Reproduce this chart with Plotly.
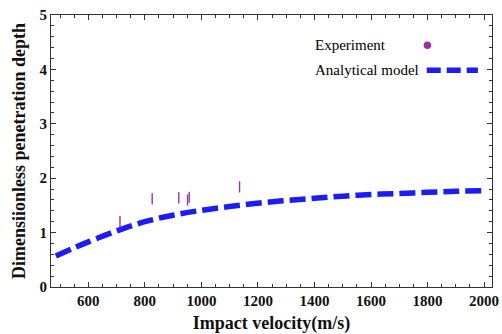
import plotly.graph_objects as go

# Experimental data
exp_velocity = [712, 826, 920, 951, 957, 1135]
exp_depth = [1.20, 1.62, 1.64, 1.60, 1.65, 1.84]

# Analytical model
model_velocity = [485, 550, 600, 700, 800, 900, 1000, 1100, 1200, 1300, 1400,
                  1500, 1600, 1700, 1800, 1900, 2000]
model_depth = [0.57, 0.72, 0.83, 1.03, 1.20, 1.32, 1.41, 1.48, 1.54, 1.59, 1.63,
               1.67, 1.70, 1.72, 1.74, 1.76, 1.77]

x_ticks = [600, 800, 1000, 1200, 1400, 1600, 1800, 2000]
y_ticks = [0, 1, 2, 3, 4, 5]

PURPLE = "#9b30a8"
BLUE = "#1c1cf5"
FONT = "Liberation Serif"

fig = go.Figure()
fig.add_trace(go.Scatter(
    x=model_velocity, y=model_depth, mode="lines", line_shape="spline",
    line=dict(color=BLUE, width=5.5, dash="16px,6px"), showlegend=False,
))
fig.add_trace(go.Scatter(
    x=exp_velocity, y=exp_depth, mode="markers",
    marker=dict(symbol="line-ns", size=8, line=dict(color=PURPLE, width=1.4)),
    showlegend=False,
))

axis_common = dict(
    showgrid=False, zeroline=False, showline=True, linecolor="#333", linewidth=1,
    mirror="allticks", ticks="inside", ticklen=5, tickcolor="#333", automargin=False,
    tickfont=dict(family=FONT, size=15, color="#111", weight="bold"),
)
fig.update_xaxes(
    range=[468, 2028], tickvals=x_ticks, ticktext=[str(v) for v in x_ticks],
    minor=dict(dtick=50, ticks="inside", ticklen=3, tickcolor="#333"),
    title=dict(text="Impact velocity(m/s)",
               font=dict(family=FONT, size=18, color="#111", weight="bold"),
               standoff=8),
    **axis_common,
)
fig.update_yaxes(
    range=[0, 5], tickvals=y_ticks, ticktext=[str(v) for v in y_ticks],
    minor=dict(dtick=0.2, ticks="inside", ticklen=3, tickcolor="#333"),
    title=dict(text="Dimensiionless penetration depth",
               font=dict(family=FONT, size=18, color="#111", weight="bold"), standoff=9),
    **axis_common,
)

# Legend (text left, symbol right)
fig.add_annotation(x=0.594, y=0.888, xref="paper", yref="paper", xanchor="left",
                   yanchor="middle", showarrow=False, text="Experiment",
                   font=dict(family=FONT, size=15, color="#000"))
fig.add_annotation(x=0.594, y=0.797, xref="paper", yref="paper", xanchor="left",
                   yanchor="middle", showarrow=False, text="Analytical model",
                   font=dict(family=FONT, size=15, color="#000"))
fig.add_shape(type="circle", xref="paper", yref="paper",
              x0=0.845, x1=0.862, y0=0.875, y1=0.903,
              fillcolor=PURPLE, line=dict(color=PURPLE, width=0))
fig.add_shape(type="line", xref="paper", yref="paper",
              x0=0.852, x1=0.968, y0=0.797, y1=0.797,
              line=dict(color=BLUE, width=5.5, dash="14px,6px"))

fig.update_layout(
    width=502, height=334, margin=dict(l=51, r=10, t=15, b=47),
    plot_bgcolor="white", paper_bgcolor="white",
    font=dict(family=FONT),
)
fig.write_html("out.html")
